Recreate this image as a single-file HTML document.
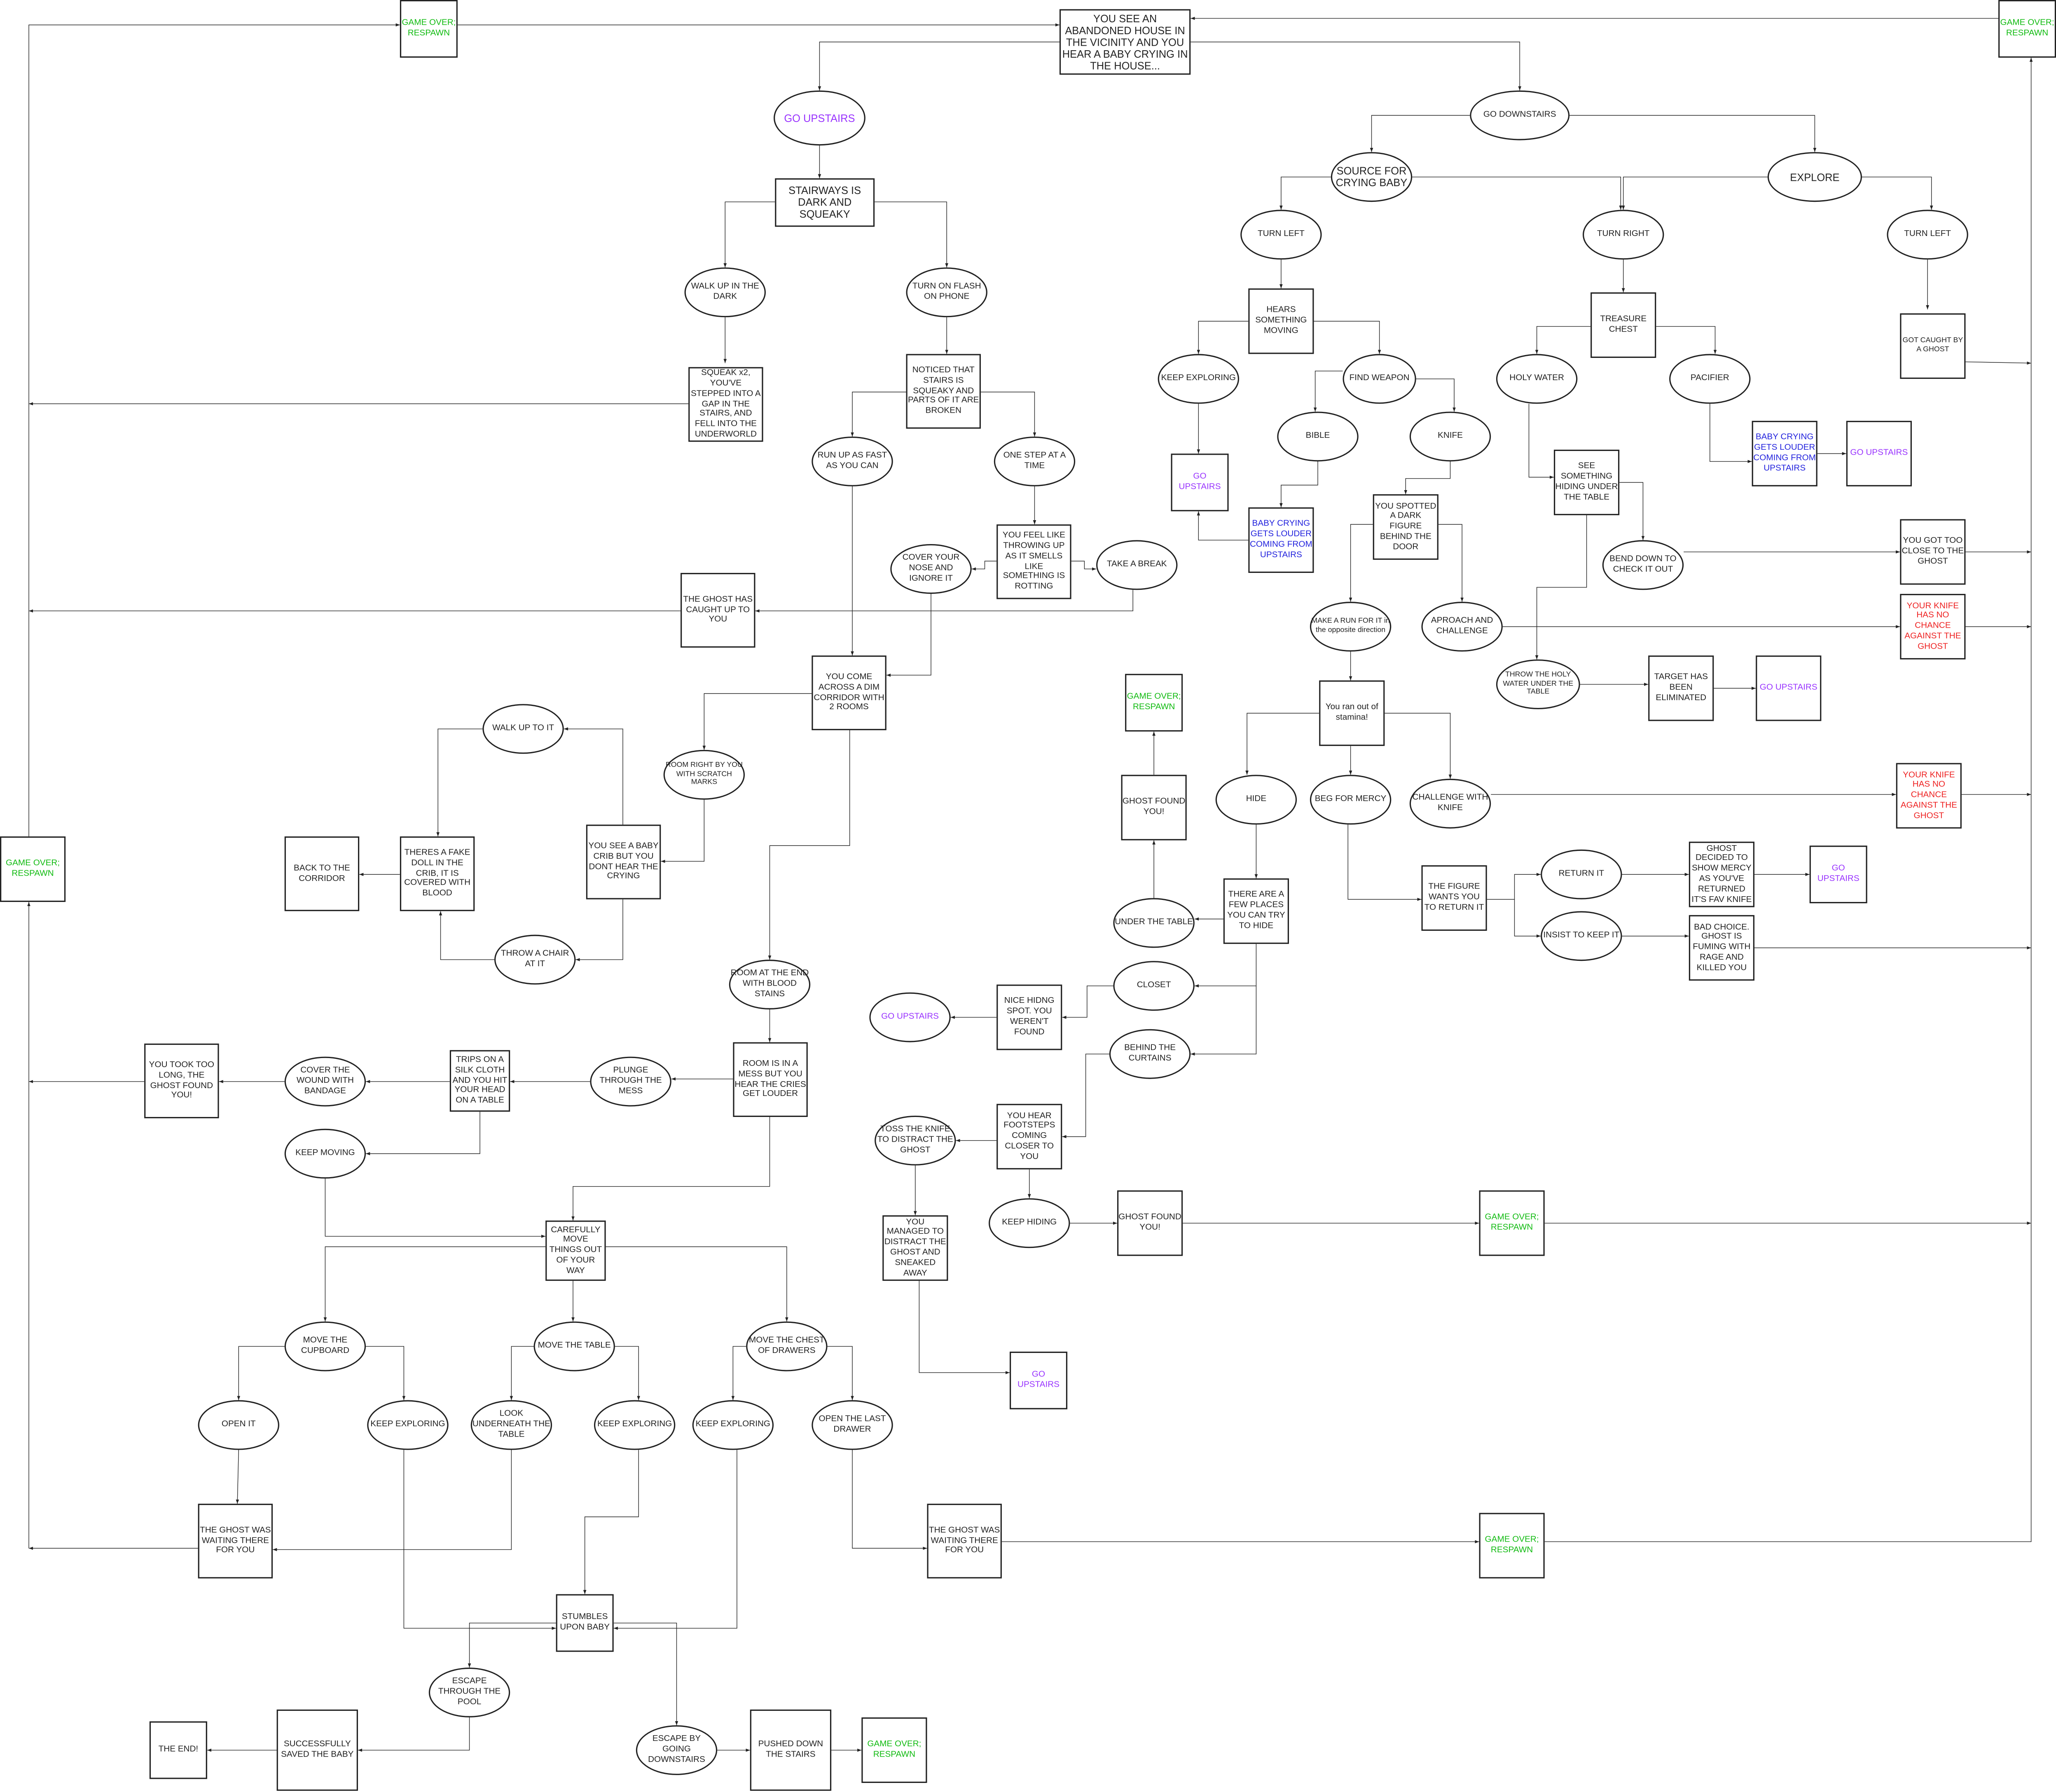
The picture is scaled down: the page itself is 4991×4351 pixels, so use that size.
<!DOCTYPE html>
<html><head><meta charset="utf-8">
<style>
html,body{margin:0;padding:0;background:#fff;}
body{width:4991px;height:4351px;overflow:hidden;}
#c{position:absolute;left:0;top:0;width:1568px;height:1367px;transform:scale(3.1831);transform-origin:0 0;font-family:"Liberation Sans",sans-serif;}
.r,.e{position:absolute;box-sizing:border-box;border:0.45px solid #222;background:#fff;display:flex;align-items:center;justify-content:center;text-align:center;font-size:6.5px;line-height:7.8px;color:#222;padding:0;overflow:visible;}
.e{border-radius:50%;}
.g{color:#11bb11;}
.p{color:#9933ff;}
.b{color:#2222dd;}
.rd{color:#ee2222;}
.big{font-size:8px;line-height:9px;}
.s{font-size:5.6px;line-height:6.6px;}
svg{position:absolute;left:0;top:0;}
</style></head><body><div id="c">
<svg width="1568" height="1367" viewBox="0 0 1568 1367">
<defs><marker id="a" markerWidth="4" markerHeight="4" refX="3.2" refY="1.6" orient="auto" markerUnits="userSpaceOnUse"><path d="M0,0.4 L3.2,1.6 L0,2.8z" fill="#222"/></marker></defs>
<g fill="none" stroke="#222" stroke-width="0.45" marker-end="url(#a)">
<polyline points="349,19 808,19"/>
<polyline points="1524,14 908,14"/>
<polyline points="808,32 625,32 625,69"/>
<polyline points="908,32 1159,32 1159,69"/>
<polyline points="625,111 625,136"/>
<polyline points="1121,88 1046,88 1046,116"/>
<polyline points="1197,88 1384,88 1384,116"/>
<polyline points="591,154 553,154 553,204"/>
<polyline points="667,154 722,154 722,204"/>
<polyline points="1015,135 977,135 977,160"/>
<polyline points="1077,135 1236,135 1236,160"/>
<polyline points="1348,135 1238,135 1238,160"/>
<polyline points="1420,135 1473,135 1473,160"/>
<polyline points="553,242 553,277"/>
<polyline points="722,242 722,270"/>
<polyline points="977,198 977,220"/>
<polyline points="1238,198 1238,223"/>
<polyline points="1470,198 1470,236"/>
<polyline points="952,245 914,245 914,270"/>
<polyline points="1002,245 1052,245 1052,270"/>
<polyline points="1213,249 1172,249 1172,270"/>
<polyline points="1263,249 1308,249 1308,270"/>
<polyline points="1499,276 1549,277"/>
<polyline points="525,308 22,308"/>
<polyline points="691,299 650,299 650,333"/>
<polyline points="748,299 789,299 789,333"/>
<polyline points="914,308 914,346"/>
<polyline points="1024,283 1003,283 1003,314"/>
<polyline points="1080,289 1109,289 1109,314"/>
<polyline points="1166,308 1166,364 1185,364"/>
<polyline points="1304,308 1304,352 1336,352"/>
<polyline points="1386,346 1408,346"/>
<polyline points="1005,352 1005,370 977,370 977,387"/>
<polyline points="1106,352 1106,365 1072,365 1072,377"/>
<polyline points="952,412 914,412 914,390"/>
<polyline points="650,371 650,500"/>
<polyline points="789,371 789,400"/>
<polyline points="760,428 751,428 751,434 741,434"/>
<polyline points="817,428 827,428 827,434 836,434"/>
<polyline points="1235,368 1253,368 1253,412"/>
<polyline points="1210,393 1210,448 1172,448 1172,503"/>
<polyline points="1284,421 1449,421"/>
<polyline points="1499,421 1549,421"/>
<polyline points="1047,400 1030,400 1030,459"/>
<polyline points="1097,400 1115,400 1115,459"/>
<polyline points="710,453 710,515 676,515"/>
<polyline points="864,450 864,466 576,466"/>
<polyline points="519,466 22,466"/>
<polyline points="1146,478 1449,478"/>
<polyline points="1499,478 1549,478"/>
<polyline points="1030,497 1030,519"/>
<polyline points="1205,522 1257,522"/>
<polyline points="1307,525 1339,525"/>
<polyline points="619,529 537,529 537,572"/>
<polyline points="648,557 648,645 587,645 587,732"/>
<polyline points="880,591 880,558"/>
<polyline points="1006,544 951,544 951,591"/>
<polyline points="1030,569 1030,591"/>
<polyline points="1056,544 1106,544 1106,594"/>
<polyline points="1137,606 1446,606"/>
<polyline points="1496,606 1549,606"/>
<polyline points="368,556 334,556 334,638"/>
<polyline points="475,629 475,556 430,556"/>
<polyline points="537,610 537,657 504,657"/>
<polyline points="305,667 274,667"/>
<polyline points="475,686 475,732 439,732"/>
<polyline points="377,732 336,732 336,695"/>
<polyline points="22,638 22,19 305,19"/>
<polyline points="22,1181 22,688"/>
<polyline points="958,629 958,670"/>
<polyline points="1028,629 1028,686 1084,686"/>
<polyline points="1134,686 1155,686 1155,667 1175,667"/>
<polyline points="1155,686 1155,714 1175,714"/>
<polyline points="1237,667 1288,667"/>
<polyline points="1338,667 1380,667"/>
<polyline points="1237,714 1288,714"/>
<polyline points="1338,723 1549,723"/>
<polyline points="933,701 911,701"/>
<polyline points="880,685 880,641"/>
<polyline points="958,720 958,752 911,752"/>
<polyline points="958,752 958,804 908,804"/>
<polyline points="849,752 829,752 829,776 810,776"/>
<polyline points="760,776 725,776"/>
<polyline points="587,770 587,795"/>
<polyline points="559,823 512,823"/>
<polyline points="450,825 389,825"/>
<polyline points="343,825 279,825"/>
<polyline points="217,825 167,825"/>
<polyline points="110,825 22,825"/>
<polyline points="366,848 366,880 279,880"/>
<polyline points="248,899 248,943 416,943"/>
<polyline points="587,852 587,905 437,905 437,931"/>
<polyline points="846,804 828,804 828,867 810,867"/>
<polyline points="760,870 729,870"/>
<polyline points="785,892 785,914"/>
<polyline points="816,933 852,933"/>
<polyline points="902,933 1128,933"/>
<polyline points="1178,933 1549,933"/>
<polyline points="698,889 698,927"/>
<polyline points="701,977 701,1047 770,1047"/>
<polyline points="416,951 248,951 248,1008"/>
<polyline points="437,977 437,1008"/>
<polyline points="462,951 600,951 600,1008"/>
<polyline points="217,1027 182,1027 182,1068"/>
<polyline points="279,1027 308,1027 308,1068"/>
<polyline points="407,1027 390,1027 390,1068"/>
<polyline points="469,1027 487,1027 487,1068"/>
<polyline points="569,1027 559,1027 559,1068"/>
<polyline points="631,1027 650,1027 650,1068"/>
<polyline points="182,1106 181,1147"/>
<polyline points="390,1106 390,1182 208,1182"/>
<polyline points="151,1181 22,1181"/>
<polyline points="308,1106 308,1242 424,1242"/>
<polyline points="487,1106 487,1157 446,1157 446,1216"/>
<polyline points="562,1106 562,1242 468,1242"/>
<polyline points="650,1106 650,1181 707,1181"/>
<polyline points="764,1176 1128,1176"/>
<polyline points="1178,1176 1549,1176 1549,44"/>
<polyline points="424,1238 358,1238 358,1272"/>
<polyline points="468,1238 516,1238 516,1316"/>
<polyline points="358,1310 358,1335 273,1335"/>
<polyline points="211,1335 158,1335"/>
<polyline points="547,1335 572,1335"/>
<polyline points="634,1335 657,1335"/>
</g>
</svg>

<div class="r g" style="left:305px;top:0;width:44px;height:44px">GAME OVER; RESPAWN</div>
<div class="r big" style="left:808px;top:7px;width:100px;height:50px">YOU SEE AN ABANDONED HOUSE IN THE VICINITY AND YOU HEAR A BABY CRYING IN THE HOUSE...</div>
<div class="r g" style="left:1524px;top:0;width:44px;height:44px">GAME OVER; RESPAWN</div>
<div class="e p big" style="left:590px;top:69px;width:70px;height:42px">GO UPSTAIRS</div>
<div class="e" style="left:1121px;top:69px;width:76px;height:38px">GO DOWNSTAIRS</div>
<div class="r big" style="left:591px;top:136px;width:76px;height:37px">STAIRWAYS IS DARK AND SQUEAKY</div>
<div class="e big" style="left:1015px;top:116px;width:62px;height:38px">SOURCE FOR CRYING BABY</div>
<div class="e big" style="left:1348px;top:116px;width:72px;height:38px">EXPLORE</div>
<div class="e" style="left:522px;top:204px;width:62px;height:38px">WALK UP IN THE DARK</div>
<div class="e" style="left:691px;top:204px;width:62px;height:38px">TURN ON FLASH ON PHONE</div>
<div class="e" style="left:946px;top:160px;width:62px;height:38px">TURN LEFT</div>
<div class="e" style="left:1207px;top:160px;width:62px;height:38px">TURN RIGHT</div>
<div class="e" style="left:1439px;top:160px;width:62px;height:38px">TURN LEFT</div>
<div class="r" style="left:952px;top:220px;width:50px;height:50px">HEARS SOMETHING MOVING</div>
<div class="r" style="left:1213px;top:223px;width:50px;height:50px">TREASURE CHEST</div>
<div class="r s" style="left:1449px;top:239px;width:50px;height:50px">GOT CAUGHT BY A GHOST</div>
<div class="r" style="left:525px;top:280px;width:57px;height:57px">SQUEAK x2, YOU'VE STEPPED INTO A GAP IN THE STAIRS, AND FELL INTO THE UNDERWORLD</div>
<div class="r" style="left:691px;top:270px;width:57px;height:57px">NOTICED THAT STAIRS IS SQUEAKY AND PARTS OF IT ARE BROKEN</div>
<div class="e" style="left:883px;top:270px;width:62px;height:38px">KEEP EXPLORING</div>
<div class="e" style="left:1024px;top:270px;width:56px;height:38px">FIND WEAPON</div>
<div class="e" style="left:1141px;top:270px;width:62px;height:38px">HOLY WATER</div>
<div class="e" style="left:1273px;top:270px;width:62px;height:38px">PACIFIER</div>
<div class="e" style="left:974px;top:314px;width:62px;height:38px">BIBLE</div>
<div class="e" style="left:1075px;top:314px;width:62px;height:38px">KNIFE</div>
<div class="r b" style="left:1336px;top:321px;width:50px;height:50px">BABY CRYING GETS LOUDER COMING FROM UPSTAIRS</div>
<div class="r p" style="left:1408px;top:321px;width:50px;height:50px">GO UPSTAIRS</div>
<div class="e" style="left:619px;top:333px;width:62px;height:38px">RUN UP AS FAST AS YOU CAN</div>
<div class="e" style="left:758px;top:333px;width:62px;height:38px">ONE STEP AT A TIME</div>
<div class="r p" style="left:893px;top:346px;width:44px;height:44px">GO UPSTAIRS</div>
<div class="r" style="left:1185px;top:343px;width:50px;height:50px">SEE SOMETHING HIDING UNDER THE TABLE</div>
<div class="r" style="left:1047px;top:377px;width:50px;height:50px">YOU SPOTTED A DARK FIGURE BEHIND THE DOOR</div>
<div class="r b" style="left:952px;top:387px;width:50px;height:50px">BABY CRYING GETS LOUDER COMING FROM UPSTAIRS</div>
<div class="r" style="left:760px;top:400px;width:57px;height:57px">YOU FEEL LIKE THROWING UP AS IT SMELLS LIKE SOMETHING IS ROTTING</div>
<div class="e" style="left:679px;top:415px;width:62px;height:38px">COVER YOUR NOSE AND IGNORE IT</div>
<div class="e" style="left:836px;top:412px;width:62px;height:38px">TAKE A BREAK</div>
<div class="e" style="left:1222px;top:412px;width:62px;height:38px">BEND DOWN TO CHECK IT OUT</div>
<div class="r" style="left:1449px;top:396px;width:50px;height:50px">YOU GOT TOO CLOSE TO THE GHOST</div>
<div class="r" style="left:519px;top:437px;width:57px;height:57px">THE GHOST HAS CAUGHT UP TO YOU</div>
<div class="r rd" style="left:1449px;top:453px;width:50px;height:50px">YOUR KNIFE HAS NO CHANCE AGAINST THE GHOST</div>
<div class="e s" style="left:999px;top:459px;width:62px;height:38px">MAKE A RUN FOR IT in the opposite direction</div>
<div class="e" style="left:1084px;top:459px;width:62px;height:38px">APROACH AND CHALLENGE</div>
<div class="r" style="left:619px;top:500px;width:57px;height:57px">YOU COME ACROSS A DIM CORRIDOR WITH 2 ROOMS</div>
<div class="e s" style="left:1141px;top:503px;width:64px;height:38px">THROW THE HOLY WATER UNDER THE TABLE</div>
<div class="r" style="left:1257px;top:500px;width:50px;height:50px">TARGET HAS BEEN ELIMINATED</div>
<div class="r p" style="left:1339px;top:500px;width:50px;height:50px">GO UPSTAIRS</div>
<div class="r g" style="left:858px;top:514px;width:44px;height:44px">GAME OVER; RESPAWN</div>
<div class="r" style="left:1006px;top:519px;width:50px;height:50px">You ran out of stamina!</div>
<div class="e" style="left:368px;top:537px;width:62px;height:38px">WALK UP TO IT</div>
<div class="e s" style="left:506px;top:572px;width:62px;height:38px">ROOM RIGHT BY YOU WITH SCRATCH MARKS</div>
<div class="r rd" style="left:1446px;top:582px;width:50px;height:50px">YOUR KNIFE HAS NO CHANCE AGAINST THE GHOST</div>
<div class="r" style="left:855px;top:591px;width:50px;height:50px">GHOST FOUND YOU!</div>
<div class="e" style="left:927px;top:591px;width:62px;height:38px">HIDE</div>
<div class="e" style="left:999px;top:591px;width:62px;height:38px">BEG FOR MERCY</div>
<div class="e" style="left:1075px;top:594px;width:62px;height:38px">CHALLENGE WITH KNIFE</div>
<div class="r g" style="left:0;top:638px;width:50px;height:50px">GAME OVER; RESPAWN</div>
<div class="r" style="left:217px;top:638px;width:57px;height:57px">BACK TO THE CORRIDOR</div>
<div class="r" style="left:305px;top:638px;width:57px;height:57px">THERES A FAKE DOLL IN THE CRIB, IT IS COVERED WITH BLOOD</div>
<div class="r" style="left:447px;top:629px;width:57px;height:57px">YOU SEE A BABY CRIB BUT YOU DONT HEAR THE CRYING</div>
<div class="r" style="left:1288px;top:642px;width:50px;height:50px">GHOST DECIDED TO SHOW MERCY AS YOU'VE RETURNED IT'S FAV KNIFE</div>
<div class="r p" style="left:1380px;top:645px;width:44px;height:44px">GO UPSTAIRS</div>
<div class="e" style="left:1175px;top:648px;width:62px;height:38px">RETURN IT</div>
<div class="r" style="left:1084px;top:660px;width:50px;height:50px">THE FIGURE WANTS YOU TO RETURN IT</div>
<div class="r" style="left:933px;top:670px;width:50px;height:50px">THERE ARE A FEW PLACES YOU CAN TRY TO HIDE</div>
<div class="e" style="left:849px;top:685px;width:62px;height:38px">UNDER THE TABLE</div>
<div class="e" style="left:1175px;top:695px;width:62px;height:38px">INSIST TO KEEP IT</div>
<div class="r" style="left:1288px;top:698px;width:50px;height:50px">BAD CHOICE. GHOST IS FUMING WITH RAGE AND KILLED YOU</div>
<div class="e" style="left:377px;top:713px;width:62px;height:38px">THROW A CHAIR AT IT</div>
<div class="e" style="left:556px;top:732px;width:62px;height:38px">ROOM AT THE END WITH BLOOD STAINS</div>
<div class="e" style="left:849px;top:733px;width:62px;height:38px">CLOSET</div>
<div class="r" style="left:760px;top:751px;width:50px;height:50px">NICE HIDNG SPOT. YOU WEREN'T FOUND</div>
<div class="e p" style="left:663px;top:757px;width:62px;height:38px">GO UPSTAIRS</div>
<div class="r" style="left:110px;top:796px;width:57px;height:57px">YOU TOOK TOO LONG, THE GHOST FOUND YOU!</div>
<div class="e" style="left:217px;top:806px;width:62px;height:38px">COVER THE WOUND WITH BANDAGE</div>
<div class="r" style="left:343px;top:801px;width:46px;height:47px">TRIPS ON A SILK CLOTH AND YOU HIT YOUR HEAD ON A TABLE</div>
<div class="e" style="left:450px;top:806px;width:62px;height:38px">PLUNGE THROUGH THE MESS</div>
<div class="r" style="left:559px;top:795px;width:57px;height:57px">ROOM IS IN A MESS BUT YOU HEAR THE CRIES GET LOUDER</div>
<div class="e" style="left:846px;top:785px;width:62px;height:38px">BEHIND THE CURTAINS</div>
<div class="r" style="left:760px;top:842px;width:50px;height:50px">YOU HEAR FOOTSTEPS COMING CLOSER TO YOU</div>
<div class="e" style="left:667px;top:851px;width:62px;height:38px">TOSS THE KNIFE TO DISTRACT THE GHOST</div>
<div class="e" style="left:217px;top:861px;width:62px;height:38px">KEEP MOVING</div>
<div class="e" style="left:754px;top:914px;width:62px;height:38px">KEEP HIDING</div>
<div class="r" style="left:852px;top:908px;width:50px;height:50px">GHOST FOUND YOU!</div>
<div class="r g" style="left:1128px;top:908px;width:50px;height:50px">GAME OVER; RESPAWN</div>
<div class="r" style="left:673px;top:927px;width:50px;height:50px">YOU MANAGED TO DISTRACT THE GHOST AND SNEAKED AWAY</div>
<div class="r" style="left:416px;top:931px;width:46px;height:46px">CAREFULLY MOVE THINGS OUT OF YOUR WAY</div>
<div class="e" style="left:217px;top:1008px;width:62px;height:38px">MOVE THE CUPBOARD</div>
<div class="e" style="left:407px;top:1008px;width:62px;height:38px">MOVE THE TABLE</div>
<div class="e" style="left:569px;top:1008px;width:62px;height:38px">MOVE THE CHEST OF DRAWERS</div>
<div class="r p" style="left:770px;top:1031px;width:44px;height:44px">GO UPSTAIRS</div>
<div class="e" style="left:151px;top:1068px;width:62px;height:38px">OPEN IT</div>
<div class="e" style="left:280px;top:1068px;width:62px;height:38px">KEEP EXPLORING</div>
<div class="e" style="left:359px;top:1068px;width:62px;height:38px">LOOK UNDERNEATH THE TABLE</div>
<div class="e" style="left:453px;top:1068px;width:62px;height:38px">KEEP EXPLORING</div>
<div class="e" style="left:528px;top:1068px;width:62px;height:38px">KEEP EXPLORING</div>
<div class="e" style="left:619px;top:1068px;width:62px;height:38px">OPEN THE LAST DRAWER</div>
<div class="r" style="left:151px;top:1147px;width:57px;height:57px">THE GHOST WAS WAITING THERE FOR YOU</div>
<div class="r" style="left:707px;top:1147px;width:57px;height:57px">THE GHOST WAS WAITING THERE FOR YOU</div>
<div class="r g" style="left:1128px;top:1154px;width:50px;height:50px">GAME OVER; RESPAWN</div>
<div class="r" style="left:424px;top:1216px;width:44px;height:44px">STUMBLES UPON BABY</div>
<div class="e" style="left:327px;top:1272px;width:62px;height:38px">ESCAPE THROUGH THE POOL</div>
<div class="r" style="left:114px;top:1313px;width:44px;height:44px">THE END!</div>
<div class="r" style="left:211px;top:1304px;width:62px;height:62px">SUCCESSFULLY SAVED THE BABY</div>
<div class="e" style="left:485px;top:1316px;width:62px;height:38px">ESCAPE BY GOING DOWNSTAIRS</div>
<div class="r" style="left:572px;top:1304px;width:62px;height:62px">PUSHED DOWN THE STAIRS</div>
<div class="r g" style="left:657px;top:1310px;width:50px;height:50px">GAME OVER; RESPAWN</div>
</div></body></html>
